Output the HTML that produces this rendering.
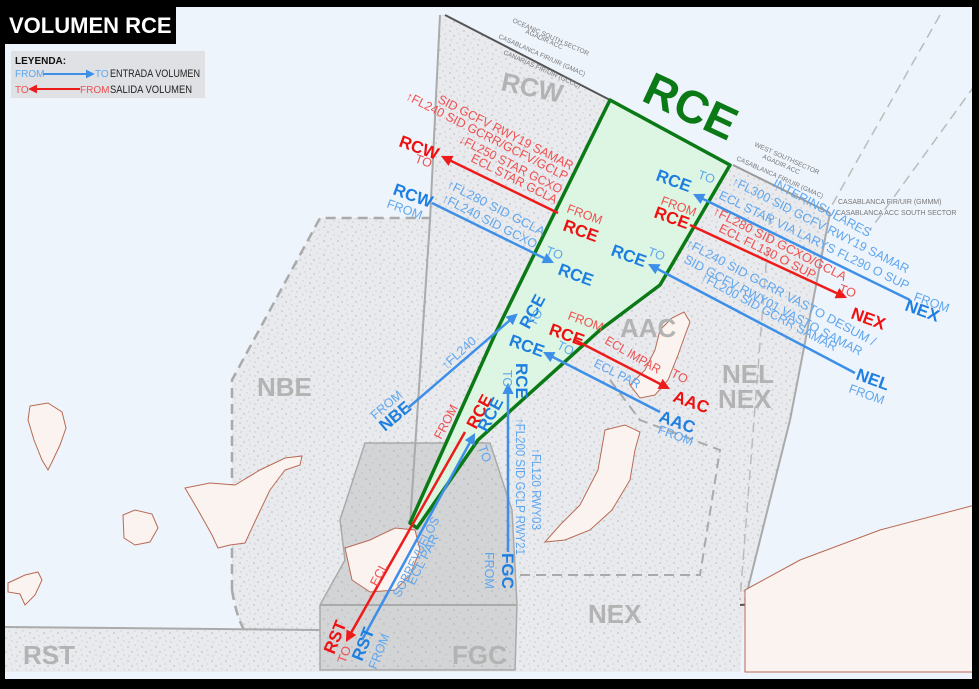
<!DOCTYPE html>
<html><head><meta charset="utf-8"><style>
html,body{margin:0;padding:0;background:#000}
svg{display:block}
text{font-family:"Liberation Sans",sans-serif}
.b{font-weight:bold;font-size:17px}
.s{font-size:12.5px}
.g{font-weight:bold;font-size:26px;fill:#b3b3b3}
.bl{fill:#1e7fe0}.lb{fill:#5fa6ee}.rd{fill:#ee1111}.lr{fill:#f05050}
.f{font-size:6.5px;fill:#777}
</style></head><body>
<svg width="979" height="689" viewBox="0 0 979 689" xmlns="http://www.w3.org/2000/svg">
<defs>
<pattern id="dots" width="14" height="14" patternUnits="userSpaceOnUse">
<rect width="14" height="14" fill="#e8eaee"/>
<circle cx="2" cy="3" r=".6" fill="#999"/><circle cx="9" cy="1" r=".5" fill="#aaa"/>
<circle cx="6" cy="8" r=".6" fill="#999"/><circle cx="12" cy="11" r=".5" fill="#aaa"/>
<circle cx="3" cy="12" r=".5" fill="#999"/><circle cx="11" cy="6" r=".5" fill="#aaa"/>
</pattern>
<pattern id="dots2" width="14" height="14" patternUnits="userSpaceOnUse">
<rect width="14" height="14" fill="#d3d4d6"/>
<circle cx="2" cy="3" r=".6" fill="#999"/><circle cx="9" cy="1" r=".5" fill="#aaa"/>
<circle cx="6" cy="8" r=".6" fill="#999"/><circle cx="12" cy="11" r=".5" fill="#aaa"/>
</pattern>
<marker id="ab" viewBox="0 0 10 10" refX="8" refY="5" markerWidth="4.5" markerHeight="4.5" orient="auto"><path d="M0,0L10,5L0,10z" fill="#3d8fe8"/></marker>
<marker id="ar" viewBox="0 0 10 10" refX="8" refY="5" markerWidth="4.5" markerHeight="4.5" orient="auto"><path d="M0,0L10,5L0,10z" fill="#ee1b1b"/></marker>
</defs>
<rect x="5" y="7" width="967" height="672" fill="#eef4fc"/>
<path d="M445,15 L610,100 L733,165 L830,213 L790,420 L745,600 L740,672 L320,672 L320,640 L242,630 L232,590 L232,380 L320,218 L430,218 L440,15 Z" fill="url(#dots)"/>
<path d="M5,627 L320,630 L320,672 L5,672 Z" fill="url(#dots)"/>
<path d="M365,443 L490,443 L512,510 L517,605 L515,670 L320,670 L320,605 L345,560 L340,520 Z" fill="url(#dots2)" stroke="#aaa" stroke-width="1.5"/>
<line x1="320" y1="605" x2="517" y2="605" stroke="#aaa" stroke-width="2"/>
<path d="M232,590 L232,380 L320,218 L430,218" fill="none" stroke="#aaa" stroke-width="2.5" stroke-dasharray="10,6"/>
<path d="M232,590 Q236,615 244,630" fill="none" stroke="#aaa" stroke-width="2.5" stroke-dasharray="10,6"/>
<path d="M440,15 L430,220 L410,525" fill="none" stroke="#aaa" stroke-width="2"/>
<path d="M5,627 L320,630" stroke="#aaa" stroke-width="2"/>
<path d="M830,213 L790,420 L745,600" fill="none" stroke="#aaa" stroke-width="2"/>
<path d="M610,380 L640,420 L720,450 L700,575 L520,575" fill="none" stroke="#aaa" stroke-width="2" stroke-dasharray="10,6"/>
<path d="M770,215 L740,600" fill="none" stroke="#bbb" stroke-width="1.5" stroke-dasharray="10,6"/>
<path d="M940,15 L832,205" fill="none" stroke="#bbb" stroke-width="1.5" stroke-dasharray="10,6"/>
<path d="M975,85 L870,230" fill="none" stroke="#bbb" stroke-width="1.5" stroke-dasharray="10,6"/>
<path d="M445,15 L610,100" stroke="#555" stroke-width="2"/>
<path d="M733,165 L830,213" stroke="#999" stroke-width="2"/>
<path d="M740,605 L975,590" stroke="#555" stroke-width="2"/>
<g fill="#fbf3ef" stroke="#b86a55" stroke-width="1">
<path d="M30,406 L48,403 L62,412 L66,428 L60,445 L52,462 L48,470 L42,460 L34,440 L28,420 Z"/>
<path d="M123,515 L135,510 L152,514 L158,528 L150,542 L135,545 L124,538 Z"/>
<path d="M185,488 L210,483 L235,485 L260,470 L285,458 L302,456 L300,465 L285,470 L270,490 L258,515 L245,543 L230,545 L218,548 L212,535 L198,510 Z"/>
<path d="M8,583 L25,575 L38,572 L42,580 L35,595 L25,605 L20,594 L8,592 Z"/>
<path d="M345,548 L370,540 L395,528 L415,530 L420,550 L410,575 L395,590 L370,592 L352,580 Z"/>
<path d="M605,430 L625,425 L640,432 L635,450 L630,480 L612,510 L590,530 L565,540 L545,542 L560,525 L580,505 L598,470 Z"/>
<path d="M660,330 L672,318 L684,312 L690,322 L684,338 L678,355 L668,380 L655,395 L640,398 L630,385 L645,370 L655,350 Z"/>
<path d="M745,590 L800,560 L880,530 L975,505 L975,672 L745,672 Z"/>
</g>
<path d="M610,100 L730,165 L660,285 L600,330 L478,440 L417,528 L410,523 L497,330 Z" fill="#dcf7e1" fill-opacity=".9" stroke="#0b7a16" stroke-width="3.5" stroke-linejoin="round"/>
<text transform="translate(640,100) rotate(25)" font-size="46" font-weight="bold" fill="#0b7a16">RCE</text>
<text class="g" transform="translate(500,90) rotate(12)">RCW</text>
<text class="g" x="620" y="337">AAC</text>
<text class="g" x="257" y="396">NBE</text>
<text class="g" x="722" y="383">NEL</text>
<text class="g" x="718" y="408">NEX</text>
<text class="g" x="588" y="623">NEX</text>
<text class="g" x="452" y="664">FGC</text>
<text class="g" x="23" y="664">RST</text>
<g class="f">
<text transform="translate(512,22) rotate(24)">OCEANIC SOUTH SECTOR</text>
<text transform="translate(525,33) rotate(24)">AGADIR ACC</text>
<text transform="translate(498,38) rotate(24)">CASABLANCA FIR/UIR (GMAC)</text>
<text transform="translate(503,54) rotate(24)">CANARIAS FIR/UIR (GCCC)</text>
<text transform="translate(754,146) rotate(24)">WEST SOUTHSECTOR</text>
<text transform="translate(762,158) rotate(24)">AGADIR ACC</text>
<text transform="translate(736,160) rotate(24)">CASABLANCA FIR/UIR (GMAC)</text>
<text x="838" y="204" font-size="7">CASABLANCA FIR/UIR (GMMM)</text>
<text x="836" y="215" font-size="7">CASABLANCA ACC SOUTH SECTOR</text>
</g>
<g stroke-width="2.5" fill="none">
<line x1="558" y1="213" x2="443" y2="157" stroke="#ee1b1b" marker-end="url(#ar)"/>
<line x1="432" y1="203" x2="552" y2="262" stroke="#3d8fe8" marker-end="url(#ab)"/>
<line x1="910" y1="300" x2="695" y2="195" stroke="#3d8fe8" marker-end="url(#ab)"/>
<line x1="690" y1="225" x2="845" y2="297" stroke="#ee1b1b" marker-end="url(#ar)"/>
<line x1="855" y1="373" x2="650" y2="265" stroke="#3d8fe8" marker-end="url(#ab)"/>
<line x1="575" y1="340" x2="668" y2="388" stroke="#ee1b1b" marker-end="url(#ar)"/>
<line x1="660" y1="412" x2="545" y2="353" stroke="#3d8fe8" marker-end="url(#ab)"/>
<line x1="408" y1="408" x2="516" y2="315" stroke="#3d8fe8" marker-end="url(#ab)"/>
<line x1="508" y1="552" x2="508" y2="385" stroke="#3d8fe8" marker-end="url(#ab)"/>
<line x1="465" y1="432" x2="347" y2="640" stroke="#ee1b1b" marker-end="url(#ar)"/>
<line x1="362" y1="640" x2="474" y2="435" stroke="#3d8fe8" marker-end="url(#ab)"/>
</g>
<text class="b rd" transform="translate(398,146) rotate(20)">RCW</text>
<text class="s lr" transform="translate(414,162) rotate(20)">TO</text>
<g class="s lr">
<text transform="translate(405,99) rotate(27)" textLength="180" lengthAdjust="spacingAndGlyphs">↑FL240 SID GCRR/GCFV/GCLP</text>
<text transform="translate(437,102) rotate(27)" textLength="150" lengthAdjust="spacingAndGlyphs">SID GCFV RWY19 SAMAR</text>
<text transform="translate(458,142) rotate(27)" textLength="114" lengthAdjust="spacingAndGlyphs">↓FL250 STAR GCXO</text>
<text transform="translate(470,161) rotate(27)" textLength="95" lengthAdjust="spacingAndGlyphs">ECL STAR GCLA</text>
<text transform="translate(566,212) rotate(20)">FROM</text>
</g>
<text class="b rd" transform="translate(562,230) rotate(20)">RCE</text>
<text class="b bl" transform="translate(392,194) rotate(20)">RCW</text>
<text class="s lb" transform="translate(386,207) rotate(20)">FROM</text>
<g class="s lb">
<text transform="translate(446,187) rotate(27)" textLength="108" lengthAdjust="spacingAndGlyphs">↑FL280 SID GCLA</text>
<text transform="translate(441,201) rotate(27)" textLength="105" lengthAdjust="spacingAndGlyphs">↑FL240 SID GCXO</text>
<text transform="translate(545,254) rotate(20)">TO</text>
</g>
<text class="b bl" transform="translate(557,274) rotate(20)">RCE</text>
<text class="b bl" transform="translate(655,180) rotate(20)">RCE</text>
<text class="s lb" transform="translate(697,178) rotate(20)">TO</text>
<g class="s lb">
<text transform="translate(772,186) rotate(28)" textLength="109" lengthAdjust="spacingAndGlyphs">INTERINSULARES</text>
<text transform="translate(731,184) rotate(27)" textLength="197" lengthAdjust="spacingAndGlyphs">↑FL300 SID GCFV RWY19 SAMAR</text>
<text transform="translate(718,198) rotate(26)" textLength="210" lengthAdjust="spacingAndGlyphs">ECL STAR VIA LARYS FL290 O SUP</text>
<text transform="translate(913,300) rotate(20)">FROM</text>
</g>
<text class="b bl" transform="translate(904,310) rotate(20)">NEX</text>
<text class="s lr" transform="translate(660,204) rotate(20)">FROM</text>
<text class="b rd" transform="translate(653,217) rotate(20)">RCE</text>
<g class="s lr">
<text transform="translate(712,214) rotate(27)" textLength="148" lengthAdjust="spacingAndGlyphs">↑FL280 SID GCXO/GCLA</text>
<text transform="translate(718,231) rotate(27)" textLength="107" lengthAdjust="spacingAndGlyphs">ECL FL130 O SUP</text>
<text transform="translate(838,292) rotate(20)">TO</text>
</g>
<text class="b rd" transform="translate(850,318) rotate(20)">NEX</text>
<text class="b bl" transform="translate(610,255) rotate(20)">RCE</text>
<text class="s lb" transform="translate(647,255) rotate(20)">TO</text>
<g class="s lb">
<text transform="translate(685,246) rotate(28)" textLength="213" lengthAdjust="spacingAndGlyphs">↑FL240 SID GCRR VASTO DESUM /</text>
<text transform="translate(683,262) rotate(28)" textLength="200" lengthAdjust="spacingAndGlyphs">SID GCFV RWY01 VASTO SAMAR</text>
<text transform="translate(700,280) rotate(28)" textLength="152" lengthAdjust="spacingAndGlyphs">↑FL200 SID GCRR SAMAR</text>
<text transform="translate(848,392) rotate(20)">FROM</text>
</g>
<text class="b bl" transform="translate(855,379) rotate(20)">NEL</text>
<text class="s lr" transform="translate(567,319) rotate(20)">FROM</text>
<text class="b rd" transform="translate(548,334) rotate(20)">RCE</text>
<g class="s lr">
<text transform="translate(604,343) rotate(30)" textLength="62" lengthAdjust="spacingAndGlyphs">ECL IMPAR</text>
<text transform="translate(670,376) rotate(27)">TO</text>
</g>
<text class="b rd" transform="translate(672,401) rotate(20)">AAC</text>
<text class="b bl" transform="translate(508,345) rotate(20)">RCE</text>
<g class="s lb">
<text transform="translate(556,348) rotate(27)">TO</text>
<text transform="translate(593,366) rotate(27)" textLength="50" lengthAdjust="spacingAndGlyphs">ECL PAR</text>
<text transform="translate(657,433) rotate(20)">FROM</text>
</g>
<text class="b bl" transform="translate(658,421) rotate(20)">AAC</text>
<text class="b bl" transform="translate(385,432) rotate(-40)">NBE</text>
<text class="s lb" transform="translate(375,420) rotate(-40)">FROM</text>
<text class="s lb" transform="translate(446,370) rotate(-42)">↑FL240</text>
<text class="b bl" transform="translate(529,330) rotate(-62)">RCE</text>
<text class="s lb" transform="translate(535,327) rotate(-62)">TO</text>
<text class="b bl" transform="translate(516,363) rotate(90)">RCE</text>
<text class="s lb" transform="translate(503,370) rotate(90)">TO</text>
<g class="s lb">
<text transform="translate(516,418) rotate(90)" textLength="137" lengthAdjust="spacingAndGlyphs">↑FL200 SID GCLP RWY21</text>
<text transform="translate(532,448) rotate(90)" textLength="82" lengthAdjust="spacingAndGlyphs">↑FL120 RWY03</text>
<text transform="translate(485,552) rotate(90)">FROM</text>
</g>
<text class="b bl" transform="translate(502,553) rotate(90)">FGC</text>
<text class="b rd" transform="translate(476,430) rotate(-62)">RCE</text>
<text class="s lr" transform="translate(441,440) rotate(-62)">FROM</text>
<text class="s lr" transform="translate(377,587) rotate(-62)">ECL</text>
<text class="b rd" transform="translate(334,655) rotate(-68)">RST</text>
<text class="s lr" transform="translate(345,664) rotate(-68)">TO</text>
<text class="b bl" transform="translate(487,433) rotate(-62)">RCE</text>
<text class="s lb" transform="translate(478,447) rotate(70)">TO</text>
<g class="s lb">
<text transform="translate(400,598) rotate(-63)" textLength="88" lengthAdjust="spacingAndGlyphs">SOBREVUELOS</text>
<text transform="translate(414,586) rotate(-63)" textLength="55" lengthAdjust="spacingAndGlyphs">ECL PAR</text>
<text transform="translate(376,670) rotate(-68)">FROM</text>
</g>
<text class="b bl" transform="translate(362,662) rotate(-68)">RST</text>
<rect x="0" y="0" width="979" height="7" fill="#000"/>
<rect x="0" y="0" width="5" height="689" fill="#000"/>
<rect x="972" y="0" width="7" height="689" fill="#000"/>
<rect x="0" y="679" width="979" height="10" fill="#000"/>
<rect x="0" y="0" width="176" height="44" fill="#000"/>
<text x="9" y="33" font-size="22" font-weight="bold" fill="#fff">VOLUMEN RCE</text>
<rect x="11" y="51" width="194" height="47" fill="#dfe1e5"/>
<text x="15" y="64" font-size="10" font-weight="bold" fill="#111">LEYENDA:</text>
<text x="15" y="77" font-size="10" fill="#5fa6ee">FROM</text>
<line x1="43" y1="74" x2="93" y2="74" stroke="#3d8fe8" stroke-width="2" marker-end="url(#ab)"/>
<text x="95" y="77" font-size="10" fill="#5fa6ee">TO</text>
<text x="110" y="77" font-size="11" fill="#222" textLength="90" lengthAdjust="spacingAndGlyphs">ENTRADA VOLUMEN</text>
<text x="15" y="93" font-size="10" fill="#f05050">TO</text>
<line x1="80" y1="89" x2="30" y2="89" stroke="#ee1b1b" stroke-width="2" marker-end="url(#ar)"/>
<text x="80" y="93" font-size="10" fill="#f05050">FROM</text>
<text x="110" y="93" font-size="11" fill="#222" textLength="82" lengthAdjust="spacingAndGlyphs">SALIDA VOLUMEN</text>
</svg>
</body></html>
